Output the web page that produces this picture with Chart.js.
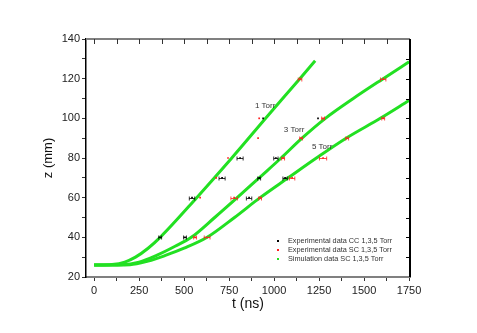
<!DOCTYPE html>
<html>
<head>
<meta charset="utf-8">
<script src="https://cdn.jsdelivr.net/npm/chart.js@4"></script>
<style>
  body { margin: 0; background: #fff; }
  canvas { display: block; }
</style>
</head>
<body>
<canvas id="grafica" width="477" height="333"></canvas>
<script>
// datos experimentales CC (negro), todas las presiones
const ccT   = [367, 544, 711, 811, 939, 505, 917, 1010, 1244, 861, 1061];
const ccZ   = [40, 60, 70, 80, 100, 40, 70, 80, 100, 60, 70];
const ccErr = [8, 15, 17, 17, 0, 8, 8, 12, 0, 15, 12];

// datos experimentales SC (rojo)
const scT   = [589, 678, 744, 911, 917, 1144, 561, 778, 1050, 1150, 1272, 1606, 628, 922, 1100, 1272, 1406, 1606];
const scZ   = [60, 70, 80, 90, 100, 120, 40, 60, 80, 90, 100, 120, 40, 60, 70, 80, 90, 100];
const scErr = [0, 0, 0, 0, 0, 10, 8, 18, 8, 8, 8, 15, 16, 8, 15, 20, 8, 8];

// simulacion SC, 1 Torr
const sim1T = [0, 100, 170, 230, 300, 367, 570, 765, 953, 1143, 1228];
const sim1Z = [26, 26.3, 27.5, 30, 34.5, 40, 60, 80, 100, 120, 129];
// simulacion SC, 3 Torr
const sim3T = [0, 150, 250, 350, 450, 540, 670, 795, 917, 1039, 1155, 1285, 1440, 1606, 1750];
const sim3Z = [26, 26.2, 27.5, 31, 35.5, 40, 50, 60, 70, 80, 90, 100, 110, 120, 128.5];
// simulacion SC, 5 Torr
const sim5T = [0, 200, 300, 400, 500, 628, 780, 922, 1078, 1235, 1400, 1590, 1750];
const sim5Z = [26, 26.2, 28, 31, 34.5, 40, 50, 60, 70, 80, 90, 100, 109];

// marcas de los ejes
const ticksX = [0, 125, 250, 375, 500, 625, 750, 875, 1000, 1125, 1250, 1375, 1500, 1625, 1750];
const ticksY = [20, 30, 40, 50, 60, 70, 80, 90, 100, 110, 120, 130, 140];

// etiquetas
const tituloY = 'z (mm)';
const etiquetasTorr = [
    { text: '1 Torr', x: 950, y: 106.5 },
    { text: '3 Torr', x: 1111, y: 94 },
    { text: '5 Torr', x: 1267, y: 85.5 }
];
const leyenda = [
    { text: 'Experimental data CC 1,3,5 Torr', color: '#000000' },
    { text: 'Experimental data SC 1,3,5 Torr', color: '#ff2020' },
    { text: 'Simulation data SC 1,3,5 Torr', color: '#22e022' }
];

const VERDE = '#22e022';
const ROJO = '#ff2020';
const FUENTE = '"Liberation Sans", Arial, sans-serif';

function puntos(ts, zs, errs) {
    return ts.map((t, i) => ({ x: t, y: zs[i], e: errs ? errs[i] : 0 }));
}

function lineaSim(ts, zs) {
    return {
        data: puntos(ts, zs),
        showLine: true,
        borderColor: VERDE,
        borderWidth: 3,
        pointRadius: 0,
        cubicInterpolationMode: 'monotone',
        fill: false
    };
}

// barras de error horizontales
const barrasError = {
    id: 'barrasError',
    afterDatasetsDraw(chart) {
        const ctx = chart.ctx;
        const sx = chart.scales.x, sy = chart.scales.y;
        ctx.save();
        chart.data.datasets.forEach(ds => {
            if (!ds.errores) return;
            ctx.strokeStyle = ds.backgroundColor;
            ctx.lineWidth = 0.8;
            ds.data.forEach(p => {
                if (!p.e) return;
                const x0 = sx.getPixelForValue(p.x - p.e);
                const x1 = sx.getPixelForValue(p.x + p.e);
                const y = Math.round(sy.getPixelForValue(p.y)) + 0.5;
                ctx.beginPath();
                ctx.moveTo(x0, y); ctx.lineTo(x1, y);
                ctx.moveTo(x0, y - 2); ctx.lineTo(x0, y + 2);
                ctx.moveTo(x1, y - 2); ctx.lineTo(x1, y + 2);
                ctx.stroke();
            });
        });
        ctx.restore();
    }
};

// marco superior / derecho, textos y leyenda
const decoracion = {
    id: 'decoracion',
    afterDraw(chart) {
        const ctx = chart.ctx;
        const a = chart.chartArea;
        const sx = chart.scales.x, sy = chart.scales.y;
        ctx.save();
        // eje superior
        ctx.strokeStyle = '#808080';
        ctx.lineWidth = 2;
        ctx.beginPath();
        ctx.moveTo(a.left, a.top); ctx.lineTo(a.right, a.top);
        ctx.stroke();
        ctx.lineWidth = 1;
        ctx.strokeStyle = '#333';
        ticksX.forEach(t => {
            const x = Math.round(sx.getPixelForValue(t)) + 0.5;
            ctx.beginPath();
            ctx.moveTo(x, a.top); ctx.lineTo(x, a.top + 5);
            ctx.stroke();
        });
        // eje derecho
        ctx.strokeStyle = '#000';
        ctx.lineWidth = 2;
        ctx.beginPath();
        ctx.moveTo(a.right, a.top); ctx.lineTo(a.right, a.bottom);
        ctx.stroke();
        ctx.lineWidth = 1;
        ticksY.slice(1, -1).forEach(z => {
            const y = Math.round(sy.getPixelForValue(z)) + 0.5;
            ctx.beginPath();
            ctx.moveTo(a.right, y); ctx.lineTo(a.right - 4, y);
            ctx.stroke();
        });
        // titulo del eje y
        ctx.save();
        ctx.translate(a.left - 38, (a.top + a.bottom) / 2);
        ctx.rotate(-Math.PI / 2);
        ctx.fillStyle = '#111';
        ctx.font = '13px ' + FUENTE;
        ctx.textAlign = 'center';
        ctx.textBaseline = 'middle';
        ctx.fillText(tituloY, 0, 0);
        ctx.restore();
        // etiquetas de presion
        ctx.fillStyle = '#333';
        ctx.font = '8px ' + FUENTE;
        ctx.textAlign = 'center';
        ctx.textBaseline = 'middle';
        etiquetasTorr.forEach(e => {
            ctx.fillText(e.text, sx.getPixelForValue(e.x), sy.getPixelForValue(e.y));
        });
        // leyenda
        ctx.font = '7.3px ' + FUENTE;
        ctx.textAlign = 'left';
        leyenda.forEach((l, i) => {
            const y = 241 + i * 9;
            ctx.fillStyle = l.color;
            ctx.fillRect(277, y - 1, 2, 2);
            ctx.fillStyle = '#333';
            ctx.fillText(l.text, 288, y);
        });
        ctx.restore();
    }
};

const ctx = document.getElementById('grafica').getContext('2d');
const grafica = new Chart(ctx, {
    type: 'scatter',
    data: {
        datasets: [
            {
                label: 'Experimental data CC 1,3,5 Torr',
                data: puntos(ccT, ccZ, ccErr),
                backgroundColor: '#000000',
                borderColor: '#000000',
                pointStyle: 'rect',
                pointRadius: 1.2,
                borderWidth: 0,
                errores: true
            },
            {
                label: 'Experimental data SC 1,3,5 Torr',
                data: puntos(scT, scZ, scErr),
                backgroundColor: ROJO,
                borderColor: ROJO,
                pointStyle: 'rect',
                pointRadius: 1.2,
                borderWidth: 0,
                errores: true
            },
            lineaSim(sim1T, sim1Z),
            lineaSim(sim3T, sim3Z),
            lineaSim(sim5T, sim5Z)
        ]
    },
    options: {
        responsive: false,
        animation: false,
        layout: { padding: { top: 39, right: 67, left: 0, bottom: 0 } },
        plugins: {
            legend: { display: false },
            tooltip: { enabled: false }
        },
        scales: {
            x: {
                type: 'linear',
                min: -45,
                max: 1755,
                afterFit: s => { s.height = 56; },
                afterBuildTicks: s => { s.ticks = ticksX.map(v => ({ value: v })); },
                border: { color: '#808080', width: 2 },
                grid: { drawOnChartArea: false, drawTicks: true, tickLength: 4, color: '#333' },
                ticks: {
                    padding: 3,
                    autoSkip: false,
                    maxRotation: 0,
                    minRotation: 0,
                    color: '#222',
                    font: { family: FUENTE, size: 11 },
                    callback: v => (v % 250 === 0 ? String(v) : '')
                },
                title: {
                    display: true,
                    text: 't (ns)',
                    color: '#111',
                    font: { family: FUENTE, size: 14 },
                    padding: { top: 0, bottom: 20 }
                }
            },
            y: {
                min: 20,
                max: 140,
                afterFit: s => { s.width = 86; },
                afterBuildTicks: s => { s.ticks = ticksY.map(v => ({ value: v })); },
                border: { color: '#000', width: 1.5 },
                grid: { drawOnChartArea: false, drawTicks: true, tickLength: 4, color: '#333' },
                ticks: {
                    padding: 2,
                    autoSkip: false,
                    color: '#222',
                    font: { family: FUENTE, size: 11 },
                    callback: v => (v % 20 === 0 ? String(v) : '')
                }
            }
        }
    },
    plugins: [barrasError, decoracion]
});
</script>
</body>
</html>
